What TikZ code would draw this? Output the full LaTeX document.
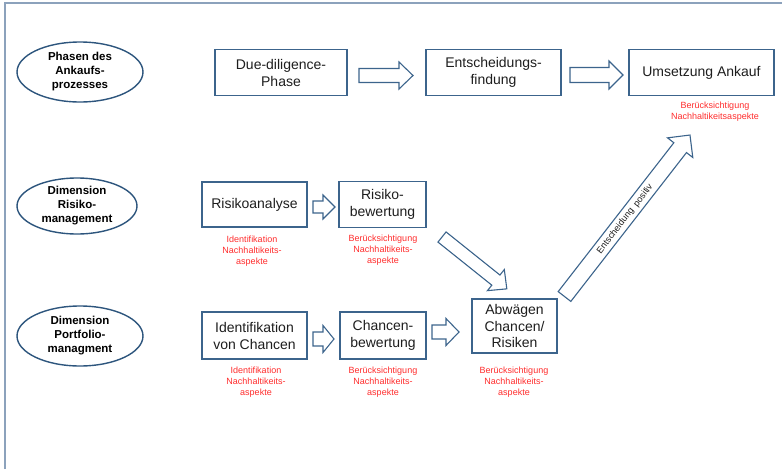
\documentclass[tikz,border=0pt]{standalone}
\usepackage{fontspec}
\setmainfont{Liberation Sans}
\usetikzlibrary{shapes.geometric}
\definecolor{boxc}{RGB}{60,100,140}
\definecolor{ellc}{RGB}{45,85,125}
\definecolor{framec}{RGB}{140,162,188}
\definecolor{redt}{RGB}{255,45,45}
\definecolor{txt}{RGB}{30,30,30}
\newcommand\blockarr[7]{%
  \begin{scope}[shift={(#1,#2)},rotate=#3]
    \draw[barr] (0,-#6) -- (#4-#5,-#6) -- (#4-#5,-#7) -- (#4,0) -- (#4-#5,#7) -- (#4-#5,#6) -- (0,#6) -- cycle;
  \end{scope}}
\tikzset{
  box/.style={draw=boxc, line width=1.3pt, fill=white, inner sep=0pt, align=center,
    text=txt, font=\fontsize{14}{17}\selectfont},
  ell/.style={ellipse, draw=ellc, line width=1.4pt, inner sep=0pt, align=center,
    text=black, font=\fontsize{11.5}{14}\selectfont\bfseries},
  note/.style={text=redt, align=center, inner sep=0pt, font=\fontsize{9}{11}\selectfont},
  barr/.style={draw=boxc, line width=1.1pt, fill=white, line join=miter}
}
\begin{document}
\begin{tikzpicture}[x=1pt,y=-1pt]
\useasboundingbox (0,0) rectangle (782,469);
\fill[white] (0,0) rectangle (782,469);
\draw[framec, line width=1.5pt] (5,469) -- (5,3) -- (782,3);

% ellipses
\node[ell, minimum width=126, minimum height=60] (e1) at (80,72) {Phasen des\\Ankaufs-\\prozesses};
\node[ell, minimum width=120, minimum height=56] (e2) at (77,206) {Dimension\\Risiko-\\management};
\node[ell, minimum width=126, minimum height=60] (e3) at (80,336) {Dimension\\Portfolio-\\managment};

% boxes
\node[box, minimum width=132, minimum height=46] (due) at (281,72.5) {Due-diligence-\\Phase};
\node[box, minimum width=135, minimum height=46] (ent) at (493.5,72.5) {Entscheidungs-\\findung};
\node[box, minimum width=145, minimum height=46] (ums) at (701.5,72.5) {Umsetzung Ankauf};
\node[box, minimum width=105, minimum height=45] (ra) at (254.5,204.5) {Risikoanalyse};
\node[box, minimum width=87, minimum height=46] (rb) at (382.5,204.5) {Risiko-\\bewertung};
\node[box, minimum width=105, minimum height=47] (ic) at (254.5,335.5) {Identifikation\\von Chancen};
\node[box, minimum width=86, minimum height=47] (cb) at (383,335.5) {Chancen-\\bewertung};
\node[box, minimum width=85, minimum height=54, font=\fontsize{14}{16.5}\selectfont] (ab) at (514.5,326) {Abwägen\\Chancen/\\Risiken};

% block arrows
\blockarr{359}{75.5}{0}{54}{14}{7}{13.5}
\blockarr{570}{75}{0}{53}{14}{7.5}{14}
\blockarr{313}{207}{0}{22}{12}{6}{12}
\blockarr{313}{339}{0}{21}{11}{7}{13.5}
\blockarr{432}{332}{0}{27}{13}{7}{13.5}
\blockarr{442}{237}{-38.66}{83}{14}{6.5}{13.5}
\blockarr{564.5}{296.5}{52.15}{204.5}{16}{8}{16}
\node[text=txt, inner sep=0pt, rotate=52.15, font=\fontsize{9}{11}\selectfont] (pos) at (625,219) {Entscheidung\ \ positiv};

% red notes
\node[note] (n1) at (715,112) {Berücksichtigung\\Nachhaltikeitsaspekte};
\node[note] (n2) at (252,251) {Identifikation\\Nachhaltikeits-\\aspekte};
\node[note] (n3) at (383,250) {Berücksichtigung\\Nachhaltikeits-\\aspekte};
\node[note] (n4) at (256,382) {Identifikation\\Nachhaltikeits-\\aspekte};
\node[note] (n5) at (383,382) {Berücksichtigung\\Nachhaltikeits-\\aspekte};
\node[note] (n6) at (514,382) {Berücksichtigung\\Nachhaltikeits-\\aspekte};
\end{tikzpicture}
\end{document}
